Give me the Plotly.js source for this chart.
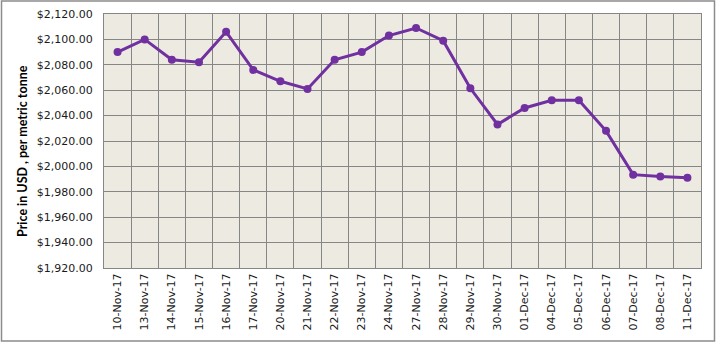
<!DOCTYPE html>
<html>
<head>
<meta charset="utf-8">
<script src="https://cdn.plot.ly/plotly-3.0.1.min.js"></script>
<style>
html,body{margin:0;padding:0;background:#fff;}
#chart{width:717px;height:343px;}
</style>
</head>
<body>
<div id="chart"></div>
<script>
const dates = ["10-Nov-17","13-Nov-17","14-Nov-17","15-Nov-17","16-Nov-17","17-Nov-17","20-Nov-17","21-Nov-17","22-Nov-17","23-Nov-17","24-Nov-17","27-Nov-17","28-Nov-17","29-Nov-17","30-Nov-17","01-Dec-17","04-Dec-17","05-Dec-17","06-Dec-17","07-Dec-17","08-Dec-17","11-Dec-17"];
const prices = [2090, 2100, 2084, 2082, 2106, 2076, 2067, 2061, 2084, 2090, 2103, 2109, 2099, 2061.5, 2033, 2046, 2052, 2052, 2028, 1993.5, 1992, 1991];
const yTitle = "Price in USD , per metric tonne";

const trace = {
  x: dates, y: prices, type: 'scatter', mode: 'lines+markers',
  line: {color: '#7030A0', width: 3},
  marker: {color: '#7030A0', size: 8},
  hoverinfo: 'x+y'
};

const W = 717, H = 343, L = 104, R = 16, T = 14, B = 75;
const pw = W - L - R, ph = H - T - B;
const layout = {
  width: W, height: H,
  margin: {l: L, r: R, t: T, b: B, pad: 0},
  paper_bgcolor: '#ffffff',
  plot_bgcolor: '#EDEAE2',
  showlegend: false,
  font: {family: 'DejaVu Sans, sans-serif', size: 11, color: '#1a1a1a'},
  xaxis: {
    type: 'category', range: [-0.5, dates.length - 0.5],
    tickson: 'boundaries', showgrid: true, gridcolor: '#868686', gridwidth: 1,
    showline: true, linecolor: '#868686', linewidth: 1, mirror: true,
    ticks: 'outside', ticklen: 6, tickcolor: 'rgba(0,0,0,0)',
    tickangle: -90, tickfont: {family: 'DejaVu Sans, sans-serif', size: 11, color: '#1a1a1a'},
    zeroline: false, fixedrange: true
  },
  yaxis: {
    range: [1920, 2120], dtick: 20, tick0: 1920, tickformat: '$,.2f',
    showgrid: true, gridcolor: '#868686', gridwidth: 1,
    showline: true, linecolor: '#868686', linewidth: 1, mirror: true,
    ticks: 'outside', ticklen: 8, tickcolor: 'rgba(0,0,0,0)',
    tickfont: {family: 'DejaVu Sans, sans-serif', size: 11, color: '#1a1a1a'},
    zeroline: false, fixedrange: true
  },
  annotations: [{
    text: yTitle, xref: 'paper', yref: 'paper',
    x: (23 - L) / pw, y: (T + ph - 151) / ph,
    xanchor: 'center', yanchor: 'middle', textangle: -90, showarrow: false,
    font: {family: 'Lato, sans-serif', size: 12.5, color: '#000', weight: 'bold'}
  }],
  shapes: [{
    type: 'rect', xref: 'paper', yref: 'paper', layer: 'below',
    x0: (1.5 - L) / pw, x1: (W - 2.5 - L) / pw,
    y0: (T + ph - (H - 2)) / ph, y1: (T + ph - 1) / ph,
    line: {color: '#8c8c8c', width: 1.5}, fillcolor: 'rgba(0,0,0,0)'
  }]
};

Plotly.newPlot('chart', [trace], layout, {displayModeBar: false, staticPlot: true});
</script>
</body>
</html>
